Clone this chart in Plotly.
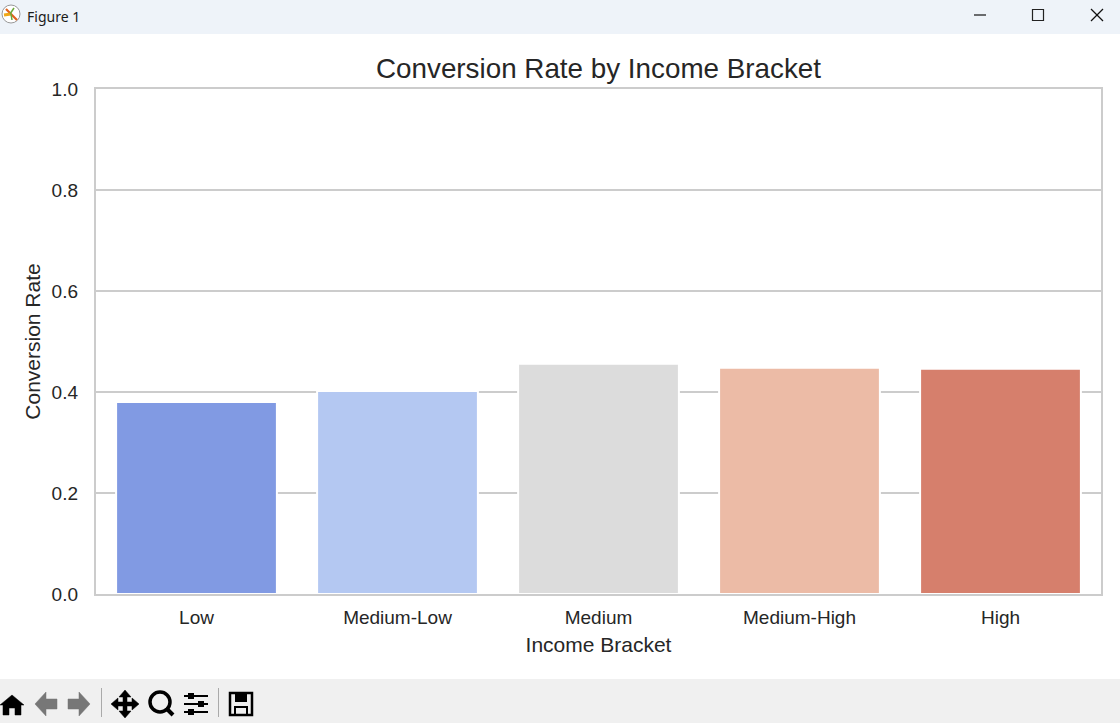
import plotly.graph_objects as go

categories = ["Low", "Medium-Low", "Medium", "Medium-High", "High"]
conversion_rate = [0.380, 0.402, 0.456, 0.448, 0.446]
bar_colors = ["#819ae3", "#b4c8f2", "#dcdcdc", "#ecbba6", "#d67f6c"]
y_ticks = [0.0, 0.2, 0.4, 0.6, 0.8, 1.0]

W, H = 1120, 723
L, R, T, B = 96, 19, 89, 129
FONT = "Liberation Sans, Arial, sans-serif"
INK = "#262626"
GRID = "#cccccc"

fig = go.Figure(go.Bar(
    x=categories, y=conversion_rate, width=0.8,
    marker=dict(color=bar_colors, line=dict(color="white", width=2)),
    hoverinfo="skip",
))

def X(p): return (p - L) / (W - L - R)
def Y(p): return 1 - (p - T) / (H - T - B)

def rect(x0, y0, x1, y1, fill=None, line=None, lw=0):
    return dict(type="rect", xref="paper", yref="paper", layer="above",
                x0=X(x0), x1=X(x1), y0=Y(y0), y1=Y(y1),
                fillcolor=fill or "rgba(0,0,0,0)",
                line=dict(color=line or "rgba(0,0,0,0)", width=lw))

def seg(x0, y0, x1, y1, color="#111111", lw=1.2):
    return dict(type="line", xref="paper", yref="paper", layer="above",
                x0=X(x0), x1=X(x1), y0=Y(y0), y1=Y(y1),
                line=dict(color=color, width=lw))

def poly(points, fill="#000000"):
    d = "M " + " L ".join(f"{X(a):.5f},{Y(b):.5f}" for a, b in points) + " Z"
    return dict(type="path", xref="paper", yref="paper", layer="above", path=d,
                fillcolor=fill, line=dict(color=fill, width=0.5))

shapes = [
    rect(0, 0, W, 34, fill="#eef3f9"),
    rect(0, 679, W, H, fill="#f0f0f0"),
    # window buttons
    seg(974, 15, 986, 15),
    rect(1032.5, 9.5, 1043.5, 20.5, line="#222222", lw=1.2),
    seg(1091, 9, 1103, 21), seg(1103, 9, 1091, 21),
    # app icon
    dict(type="circle", xref="paper", yref="paper", layer="above",
         x0=X(2), x1=X(20), y0=Y(5), y1=Y(23), line=dict(color="#999999", width=1), fillcolor="white"),
    seg(6, 9, 17, 20, color="#e2611c", lw=2.2), seg(4, 15, 11, 14, color="#f0a818", lw=3),
    seg(10, 14, 14, 8, color="#6aaa3a", lw=1.5), seg(11, 14, 12, 20, color="#6aaa3a", lw=1.5),
    # home
    poly([(0, 705), (12, 695), (24, 705), (21, 705), (21, 715), (15, 715), (15, 708), (9, 708), (9, 715), (3, 715), (3, 705)]),
    # back / forward (greyed)
    poly([(35, 704), (46, 692), (46, 699), (57, 699), (57, 709), (46, 709), (46, 716)], fill="#777777"),
    poly([(90, 704), (79, 692), (79, 699), (68, 699), (68, 709), (79, 709), (79, 716)], fill="#777777"),
    seg(101.5, 688, 101.5, 717, color="#aaaaaa", lw=1),
    # move
    poly([(125, 690), (131, 697), (127, 697), (127, 702), (132, 702), (132, 698), (139, 704),
          (132, 710), (132, 706), (127, 706), (127, 711), (131, 711), (125, 718), (119, 711),
          (123, 711), (123, 706), (118, 706), (118, 710), (111, 704), (118, 698), (118, 702),
          (123, 702), (123, 697), (119, 697)]),
    # zoom
    dict(type="circle", xref="paper", yref="paper", layer="above",
         x0=X(150), x1=X(170), y0=Y(692), y1=Y(712), line=dict(color="#000000", width=3.5), fillcolor="rgba(0,0,0,0)"),
    seg(166, 708, 173, 715, color="#000000", lw=4),
    # sliders
    seg(184, 696, 208, 696, color="#000000", lw=2), seg(184, 704, 208, 704, color="#000000", lw=2),
    seg(184, 712, 208, 712, color="#000000", lw=2),
    rect(188, 693, 194, 699, fill="#000000"), rect(198, 701, 204, 707, fill="#000000"), rect(188, 709, 194, 715, fill="#000000"),
    seg(218.5, 688, 218.5, 717, color="#aaaaaa", lw=1),
    # save
    rect(230, 693, 252, 715, line="#000000", lw=2.5),
    rect(235, 693, 247, 702, fill="#000000"),
    rect(235, 707, 247, 715, line="#000000", lw=2),
]

fig.update_layout(
    width=W, height=H, autosize=False,
    margin=dict(l=L, r=R, t=T, b=B, pad=0),
    paper_bgcolor="white", plot_bgcolor="white",
    font=dict(family=FONT, color=INK, size=18),
    showlegend=False, bargap=0.2,
    title=dict(text="Conversion Rate by Income Bracket", x=598.5 / W, xanchor="center",
               y=1 - 68 / H, yanchor="middle", font=dict(size=27.8, color=INK)),
    shapes=shapes,
    annotations=[dict(text="Figure 1", xref="paper", yref="paper", x=X(25), y=Y(16),
                      xanchor="left", yanchor="middle", showarrow=False,
                      font=dict(size=14, family="Noto Sans, sans-serif", color="#1a1a1a"))],
)
fig.update_xaxes(
    range=[-0.5, 4.5], showgrid=False, zeroline=False,
    showline=True, mirror=True, linecolor=GRID, linewidth=2.4,
    ticks="outside", ticklen=5, tickcolor="rgba(0,0,0,0)",
    tickfont=dict(size=19, color=INK),
    title=dict(text="Income Bracket", standoff=10, font=dict(size=21, color=INK)),
)
fig.update_yaxes(
    range=[0, 1], tickvals=y_ticks, ticktext=[f"{v:.1f}" for v in y_ticks],
    showgrid=True, gridcolor=GRID, gridwidth=2, zeroline=False,
    showline=True, mirror=True, linecolor=GRID, linewidth=2.4,
    ticks="outside", ticklen=12, tickcolor="rgba(0,0,0,0)",
    tickfont=dict(size=19, color=INK),
    title=dict(text="Conversion Rate", standoff=5, font=dict(size=21, color=INK)),
)

fig.write_html("out.html", config=dict(displayModeBar=False),
               post_script="document.body.style.margin='0';")
